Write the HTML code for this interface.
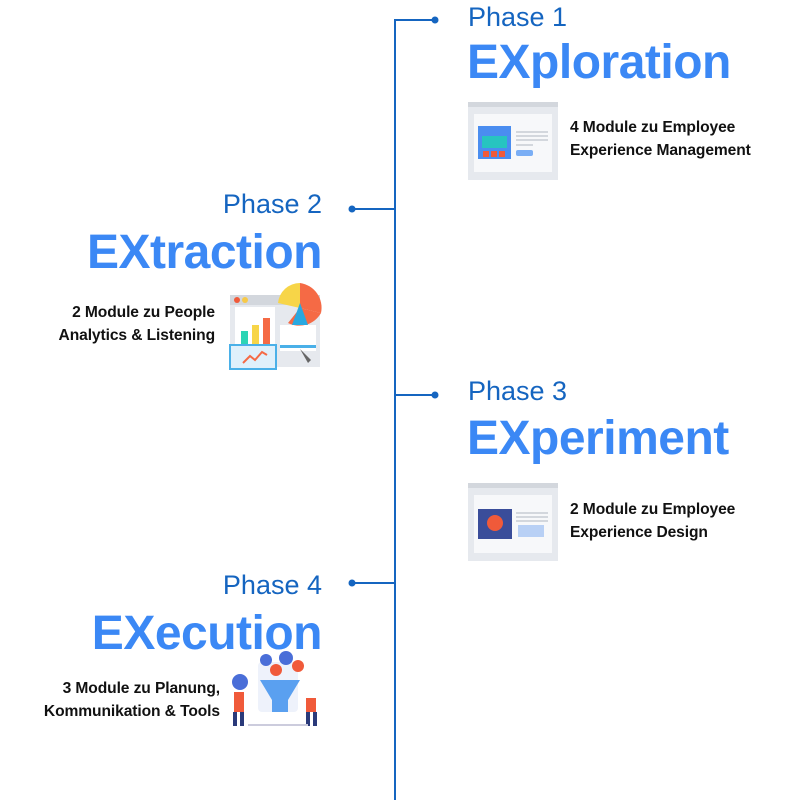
<!DOCTYPE html>
<html><head><meta charset="utf-8"><style>
body{margin:0;width:800px;height:800px;background:#fff;position:relative;overflow:hidden;font-family:"Liberation Sans",sans-serif}
.a{position:absolute;white-space:nowrap;line-height:1}
.ph{font-size:27px;color:#1565c0}
.t{font-size:48px;font-weight:bold;color:#3b88f5;letter-spacing:-0.5px}
.m{font-size:15.6px;font-weight:bold;color:#111;line-height:23px;letter-spacing:-0.1px}
.r{text-align:right}
</style></head><body>
<svg width="800" height="800" style="position:absolute;left:0;top:0">
<g stroke="#1565c0" stroke-width="2" fill="none">
<path d="M395 800V20H435M395 209H352M395 395H435M395 583H352"/>
</g>
<g fill="#1565c0"><circle cx="435" cy="20" r="3.5"/><circle cx="352" cy="209" r="3.5"/><circle cx="435" cy="395" r="3.5"/><circle cx="352" cy="583" r="3.5"/></g>
<g transform="translate(468,102)">
<rect width="90" height="78" fill="#e6e9ee"/><rect width="90" height="5" fill="#d3d7dd"/>
<rect x="6" y="12" width="78" height="58" fill="#f7f8fa"/>
<rect x="10" y="24" width="33" height="33" fill="#4a8df0"/><rect x="14" y="34" width="25" height="12" fill="#27c4c0"/>
<rect x="15" y="49" width="6" height="6" fill="#f05a3a"/><rect x="23" y="49" width="6" height="6" fill="#f05a3a"/><rect x="31" y="49" width="6" height="6" fill="#f05a3a"/>
<g fill="#d3d7dd"><rect x="48" y="29" width="32" height="2"/><rect x="48" y="33" width="32" height="2"/><rect x="48" y="37" width="32" height="2"/><rect x="48" y="42" width="17" height="2"/></g>
<rect x="48" y="48" width="17" height="6" rx="2" fill="#7aaef5"/>
</g>
<g transform="translate(468,483)">
<rect width="90" height="78" fill="#e6e9ee"/><rect width="90" height="5" fill="#d3d7dd"/>
<rect x="6" y="12" width="78" height="58" fill="#f7f8fa"/>
<rect x="10" y="26" width="34" height="30" fill="#3a4d9a"/><circle cx="27" cy="40" r="8" fill="#f05a3a"/>
<g fill="#d3d7dd"><rect x="48" y="29" width="32" height="2"/><rect x="48" y="33" width="32" height="2"/><rect x="48" y="37" width="32" height="2"/></g>
<rect x="50" y="42" width="26" height="12" fill="#b8d0f5"/>
</g>
<g transform="translate(228,283)">
<rect x="2" y="12" width="90" height="72" fill="#e6e9ee"/><rect x="2" y="12" width="90" height="10" fill="#d3d7dd"/>
<circle cx="9" cy="17" r="3" fill="#f05a3a"/><circle cx="17" cy="17" r="3" fill="#f7c948"/>
<rect x="7" y="24" width="40" height="50" fill="#fff"/>
<rect x="13" y="48" width="7" height="20" fill="#2cd4b5"/><rect x="24" y="42" width="7" height="26" fill="#f7d548"/><rect x="35" y="35" width="7" height="33" fill="#f56a45"/>
<rect x="2" y="62" width="46" height="24" fill="#dff0fb" stroke="#4ab0e8" stroke-width="2"/>
<path d="M15 80l7-7 5 4 7-8 5 3" stroke="#f56a45" stroke-width="2" fill="none"/>
<rect x="52" y="42" width="36" height="26" fill="#fff"/><rect x="52" y="62" width="36" height="3" fill="#4ab0e8"/>
<path d="M72 25L72 0A25 25 0 0 1 93 30Z" fill="#f56a45"/><path d="M72 25L93 30A25 25 0 0 1 60 40Z" fill="#f56a45"/>
<path d="M72 25L50 20A22 22 0 0 1 72 0Z" fill="#f7d548"/><path d="M64 42L72 20L80 42Z" fill="#29a8e0"/>
<path d="M72 66l8 14 3-3z" fill="#666"/>
</g>
<g transform="translate(228,640)">
<rect x="30" y="22" width="40" height="50" rx="4" fill="#eef2fb"/>
<circle cx="38" cy="20" r="6" fill="#4a6ed8"/><circle cx="58" cy="18" r="7" fill="#4a6ed8"/><circle cx="70" cy="26" r="6" fill="#f05a3a"/><circle cx="48" cy="30" r="6" fill="#f05a3a"/>
<path d="M32 40h40l-12 20v12h-16v-12z" fill="#5aa0f0"/>
<circle cx="12" cy="42" r="8" fill="#4a6ed8"/><rect x="6" y="52" width="10" height="20" fill="#f05a3a"/><rect x="5" y="72" width="4" height="14" fill="#2a3a7a"/><rect x="12" y="72" width="4" height="14" fill="#2a3a7a"/>
<rect x="78" y="58" width="10" height="14" fill="#f05a3a"/><rect x="78" y="72" width="4" height="14" fill="#2a3a7a"/><rect x="85" y="72" width="4" height="14" fill="#2a3a7a"/>
<rect x="20" y="84" width="60" height="2" fill="#ccd"/>
</g>
</svg>
<div class="a ph" style="left:468px;top:4px">Phase 1</div>
<div class="a t" style="left:467px;top:39px">EXploration</div>
<div class="a m" style="left:570px;top:116px">4 Module zu Employee<br>Experience Management</div>

<div class="a ph r" style="right:478px;top:191px">Phase 2</div>
<div class="a t r" style="right:478px;top:229px">EXtraction</div>
<div class="a m r" style="right:585px;top:301px">2 Module zu People<br>Analytics &amp; Listening</div>

<div class="a ph" style="left:468px;top:378px">Phase 3</div>
<div class="a t" style="left:467px;top:415px">EXperiment</div>
<div class="a m" style="left:570px;top:498px">2 Module zu Employee<br>Experience Design</div>

<div class="a ph r" style="right:478px;top:572px">Phase 4</div>
<div class="a t r" style="right:478px;top:610px">EXecution</div>
<div class="a m r" style="right:580px;top:677px">3 Module zu Planung,<br>Kommunikation &amp; Tools</div>
</body></html>
